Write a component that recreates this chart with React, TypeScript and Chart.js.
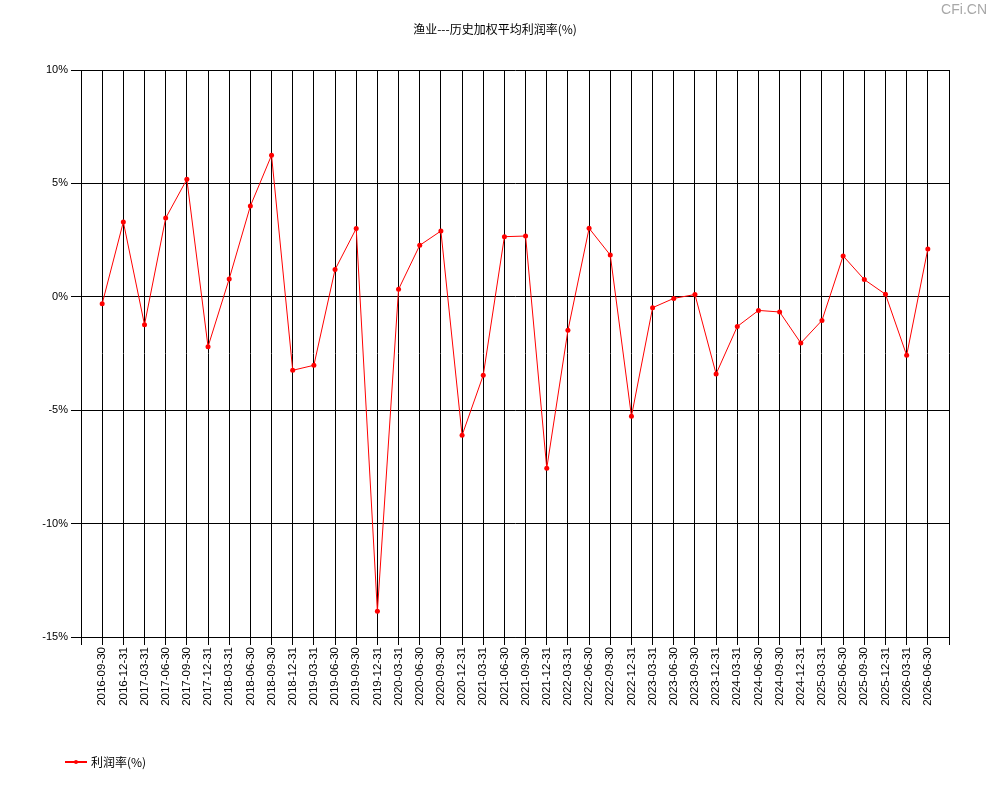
import React, { useEffect, useRef } from "react";
import { Chart, registerables } from "chart.js";

Chart.register(...registerables);

const TITLE = "渔业---历史加权平均利润率(%)";
const SERIES_LABEL = "利润率(%)";
const WATERMARK = "CFi.CN";

const categories = [
  "2016-09-30", "2016-12-31", "2017-03-31", "2017-06-30", "2017-09-30",
  "2017-12-31", "2018-03-31", "2018-06-30", "2018-09-30", "2018-12-31",
  "2019-03-31", "2019-06-30", "2019-09-30", "2019-12-31", "2020-03-31",
  "2020-06-30", "2020-09-30", "2020-12-31", "2021-03-31", "2021-06-30",
  "2021-09-30", "2021-12-31", "2022-03-31", "2022-06-30", "2022-09-30",
  "2022-12-31", "2023-03-31", "2023-06-30", "2023-09-30", "2023-12-31",
  "2024-03-31", "2024-06-30", "2024-09-30", "2024-12-31", "2025-03-31",
  "2025-06-30", "2025-09-30", "2025-12-31", "2026-03-31", "2026-06-30",
];

const profitRate = [
  -0.31, 3.3, -1.23, 3.47, 5.18,
  -2.2, 0.79, 4.0, 6.24, -3.24,
  -3.02, 1.2, 3.01, -13.87, 0.33,
  2.27, 2.9, -6.11, -3.46, 2.65,
  2.68, -7.56, -1.48, 3.02, 1.84,
  -5.27, -0.48, -0.07, 0.1, -3.4,
  -1.31, -0.6, -0.67, -2.04, -1.04,
  1.8, 0.76, 0.11, -2.58, 2.11,
];

const yTicks = [-15, -10, -5, 0, 5, 10];

const FONT = "'Liberation Sans', Arial, sans-serif";
const CJK = "'Noto Sans CJK SC', 'Liberation Sans', sans-serif";

export default function App() {
  const ref = useRef<HTMLCanvasElement | null>(null);

  useEffect(() => {
    if (!ref.current) return;
    const decor = {
      id: "decor",
      afterDraw(chart: any) {
        const ctx = chart.ctx;
        ctx.save();
        ctx.fillStyle = "#000";
        ctx.font = `12px ${CJK}`;
        ctx.textAlign = "center";
        ctx.textBaseline = "middle";
        ctx.fillText(TITLE, 495, 29);

        ctx.fillStyle = "#a8a8a8";
        ctx.font = `14px ${FONT}`;
        ctx.textAlign = "right";
        ctx.fillText(WATERMARK, 987, 10);

        // legend
        ctx.strokeStyle = "#ff0000";
        ctx.lineWidth = 2;
        ctx.beginPath();
        ctx.moveTo(65, 762);
        ctx.lineTo(87, 762);
        ctx.stroke();
        ctx.fillStyle = "#ff0000";
        ctx.beginPath();
        ctx.arc(76, 762, 2, 0, Math.PI * 2);
        ctx.fill();
        ctx.fillStyle = "#000";
        ctx.font = `12px ${CJK}`;
        ctx.textAlign = "left";
        ctx.fillText(chart.data.datasets[0].label, 91, 762);
        ctx.restore();
      },
    };

    const chart = new Chart(ref.current, {
      type: "line",
      data: {
        datasets: [
          {
            label: SERIES_LABEL,
            data: profitRate.map((v, i) => ({ x: i, y: v })),
            borderColor: "#ff0000",
            backgroundColor: "#ff0000",
            borderWidth: 1,
            pointRadius: 2.5,
            pointBorderWidth: 0,
            pointBackgroundColor: "#ff0000",
            tension: 0,
          },
        ],
      },
      options: {
        animation: false,
        responsive: false,
        maintainAspectRatio: false,
        devicePixelRatio: 1,
        layout: { padding: { top: 70, right: 41, left: 0, bottom: 0 } },
        plugins: {
          legend: { display: false },
          title: { display: false },
          tooltip: { enabled: false },
        },
        scales: {
          x: {
            type: "linear",
            min: -1,
            max: categories.length,
            afterFit(scale: any) {
              scale.height = 163;
            },
            afterBuildTicks(scale: any) {
              const t = [];
              for (let i = -1; i <= categories.length; i++) t.push({ value: i });
              scale.ticks = t;
            },
            ticks: {
              autoSkip: false,
              maxRotation: 90,
              minRotation: 90,
              padding: 2,
              color: "#000",
              font: { family: FONT, size: 11.5 },
              callback: (v: any) => categories[v as number] ?? "",
            },
            grid: {
              color: "#000",
              lineWidth: 1,
              tickLength: 8,
              drawOnChartArea: true,
            },
            border: { color: "#000", width: 1 },
          },
          y: {
            min: -15,
            max: 10,
            afterFit(scale: any) {
              scale.width = 81;
            },
            afterBuildTicks(scale: any) {
              scale.ticks = yTicks.map((v) => ({ value: v }));
            },
            ticks: {
              padding: 3,
              color: "#000",
              font: { family: FONT, size: 11 },
              callback: (v: any) => `${v}%`,
            },
            grid: { color: "#000", lineWidth: 1, tickLength: 10 },
            border: { color: "#000", width: 1 },
          },
        },
      },
      plugins: [decor],
    });
    return () => chart.destroy();
  }, []);

  return (
    <div style={{ position: "absolute", left: 0, top: 0, width: 990, height: 800, background: "#fff" }}>
      <canvas ref={ref} width={990} height={800} style={{ width: 990, height: 800 }} />
    </div>
  );
}
